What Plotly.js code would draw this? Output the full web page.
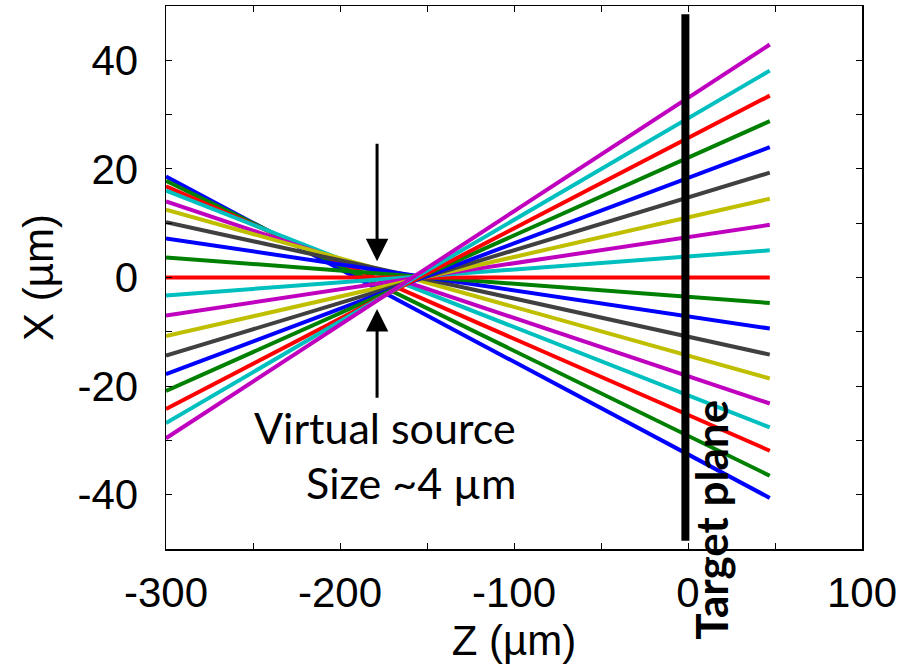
<!DOCTYPE html>
<html>
<head>
<meta charset="utf-8">
<script src="https://cdn.plot.ly/plotly-3.0.1.min.js"></script>
<style>html,body{margin:0;padding:0;background:#fff;}#chart{width:912px;height:669px;}</style>
</head>
<body>
<div id="chart"></div>
<script>
// Ray start / end positions along Z (µm)
const zStart = -300;
const zEnd = 47;
// X (µm) of each ray at Z start and at Z end
const xAtStart = [18.6, 17.8, 16.8, 16.0, 14.0, 12.5, 10.2, 7.2, 3.7, 0, -3.3, -7.0, -10.8, -14.4, -17.8, -20.9, -24.2, -26.8, -29.6];
const xAtEnd   = [-40.6, -36.5, -31.9, -27.6, -23.2, -18.6, -14.2, -9.4, -4.7, 0, 5.0, 9.7, 14.5, 19.3, 24.0, 28.8, 33.5, 38.1, 42.9];
const rayColors = ['#0000FF', '#008000', '#FF0000', '#00BFBF', '#BF00BF', '#BFBF00', '#404040'];
// Target plane
const targetZ = [-1.5, -1.5];
const targetX = [-48.5, 48.5];
// Virtual source arrows
const arrowZ = -178.7;
const arrowDown = [24.9, 3.0];
const arrowUp = [-22.4, -5.8];
const xTicks = [-300, -200, -100, 0, 100];
const yTicks = [-40, -20, 0, 20, 40];

const traces = xAtStart.map((v, i) => ({
  type: 'scatter', mode: 'lines',
  x: [zStart, zEnd], y: [v, xAtEnd[i]],
  line: {color: rayColors[i % rayColors.length], width: 4},
  showlegend: false, hoverinfo: 'skip'
}));
traces.push({
  type: 'scatter', mode: 'lines', x: targetZ, y: targetX,
  line: {color: '#000', width: 8}, showlegend: false, hoverinfo: 'skip'
});

const tickFont = {family: 'Liberation Sans, Arial, sans-serif', size: 42, color: '#000'};
const layout = {
  width: 912, height: 669,
  margin: {l: 166, r: 50, t: 6, b: 120},
  paper_bgcolor: '#fff', plot_bgcolor: '#fff',
  font: tickFont,
  xaxis: {
    range: [-300, 100], tickvals: xTicks, ticktext: xTicks.map(String),
    showgrid: false, zeroline: false, showline: true, mirror: 'ticks',
    linecolor: '#000', linewidth: 1.5, ticks: 'inside', ticklen: 6, tickcolor: '#000',
    minor: {dtick: 50, tick0: 0, ticks: 'inside', ticklen: 6, tickcolor: '#000', showgrid: false},
    tickfont: tickFont, ticklabelstandoff: 6,
    title: {text: 'Z (µm)', font: tickFont, standoff: 10}
  },
  yaxis: {
    range: [-50, 50], tickvals: yTicks, ticktext: yTicks.map(String),
    showgrid: false, zeroline: false, showline: true, mirror: 'ticks',
    linecolor: '#000', linewidth: 1.5, ticks: 'inside', ticklen: 6, tickcolor: '#000',
    minor: {dtick: 10, tick0: 0, ticks: 'inside', ticklen: 6, tickcolor: '#000', showgrid: false},
    tickfont: tickFont, ticklabelstandoff: 18,
    title: {text: 'X (µm)', font: tickFont, standoff: 10}
  },
  annotations: [
    {x: arrowZ, y: arrowDown[1], ax: arrowZ, ay: arrowDown[0], xref: 'x', yref: 'y', axref: 'x', ayref: 'y',
     showarrow: true, arrowhead: 2, arrowsize: 1.5, arrowwidth: 3, arrowcolor: '#000', text: ''},
    {x: arrowZ, y: arrowUp[1], ax: arrowZ, ay: arrowUp[0], xref: 'x', yref: 'y', axref: 'x', ayref: 'y',
     showarrow: true, arrowhead: 2, arrowsize: 1.5, arrowwidth: 3, arrowcolor: '#000', text: ''},
    {x: -97.7, y: -27.7, xref: 'x', yref: 'y', xanchor: 'right', yanchor: 'middle', showarrow: false,
     text: 'Virtual source', font: {family: 'Lato, sans-serif', size: 43, color: '#000'}},
    {x: -97.7, y: -37.7, xref: 'x', yref: 'y', xanchor: 'right', yanchor: 'middle', showarrow: false,
     text: 'Size ~4 µm', font: {family: 'Lato, sans-serif', size: 43, color: '#000'}},
    {x: 13.5, y: -44.5, xref: 'x', yref: 'y', xanchor: 'center', yanchor: 'middle', showarrow: false, textangle: -90,
     text: '<b>Target plane</b>', font: {family: 'Lato, sans-serif', size: 44, color: '#000'}}
  ]
};
Plotly.newPlot('chart', traces, layout, {staticPlot: true, displayModeBar: false});
</script>
</body>
</html>
